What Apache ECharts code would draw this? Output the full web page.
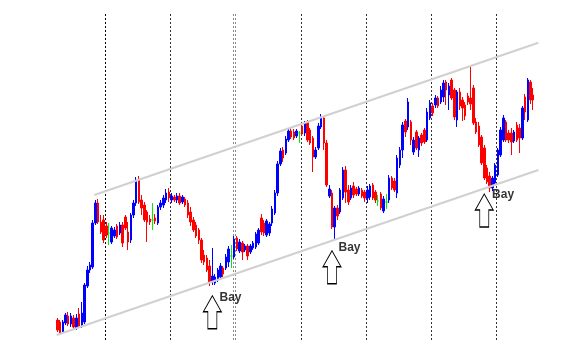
<!DOCTYPE html>
<html><head><meta charset="utf-8">
<script src="https://cdn.jsdelivr.net/npm/echarts@6/dist/echarts.min.js"></script>
<style>html,body{margin:0;padding:0;background:#fff}#c{width:588px;height:357px}</style>
</head><body><div id="c"></div>
<script>
// Price values (arbitrary units, hidden axis)
const openP = [20,18,8,17,24,16,22,12,26,14,
18,54,70,73,117,137,118,120,114,107,
98,104,114,107,115,123,108,100,125,137,
160,140,135,128,121,120,122,117,133,135,
140,148,140,143,140,144,138,141,137,128,
120,115,110,100,85,82,74,58,57,60,
63,72,72,78,84,83,102,89,97,90,
94,88,92,93,97,122,117,105,107,117,
127,147,176,190,187,200,209,208,204,207,
214,207,218,210,202,183,192,213,222,197,
144,147,113,132,128,142,170,150,142,154,
151,146,150,148,142,143,155,148,139,146,
129,138,140,162,159,147,175,190,219,213,
218,188,208,190,205,210,200,222,234,235,
242,238,243,258,245,260,250,220,248,240,
235,244,242,252,218,214,203,192,172,164,
152,157,165,185,200,218,207,207,199,215,
212,202,243,220,258,245];
const closeP = [10,7,18,25,16,24,13,22,14,27,
55,70,75,117,137,118,108,100,105,107,
112,110,103,115,97,112,98,125,137,160,
138,132,120,118,118,120,119,133,137,142,
147,142,144,140,144,137,143,135,125,118,
110,104,100,80,78,70,58,64,63,70,
74,66,83,91,84,101,91,98,88,94,
84,94,97,106,110,108,107,119,116,131,
147,176,189,182,201,209,203,202,209,207,
206,217,200,197,183,190,214,223,197,155,
151,113,132,124,150,170,148,138,152,145,
146,152,144,142,150,154,142,140,139,132,
141,138,162,152,150,182,190,215,208,238,
200,200,192,202,197,198,228,237,227,242,
234,250,257,250,254,242,223,248,234,232,
224,238,236,217,208,195,177,162,158,152,
162,175,190,210,222,200,200,198,208,200,
202,232,228,260,240,240];
const lowP = [8,6,6,15,14,13,10,10,12,12,
16,52,67,71,115,116,106,97,102,95,
96,102,101,105,93,110,90,97,122,134,
136,125,118,98,115,110,116,115,130,132,
137,138,137,138,137,135,136,133,122,114,
108,102,96,77,75,68,54,55,55,58,
61,63,70,73,72,81,89,87,80,88,
80,86,90,91,95,105,104,103,104,114,
125,144,174,178,185,198,201,200,202,197,
204,204,198,195,168,181,190,211,190,153,
142,111,100,120,126,140,137,135,140,142,
144,144,142,138,137,140,140,137,134,130,
127,131,137,150,148,142,172,182,203,210,
195,185,190,183,194,196,198,220,224,232,
232,236,238,235,230,240,220,213,230,219,
220,235,230,215,206,193,175,160,156,148,
149,155,163,183,198,198,197,185,197,198,
187,200,220,218,236,230];
const highP = [22,20,20,27,28,27,25,26,32,38,
57,74,78,120,140,141,125,125,118,117,
114,113,116,118,118,125,118,127,140,163,
164,145,138,130,125,137,126,135,140,145,
151,152,147,145,147,147,145,143,140,133,
123,118,112,102,90,85,80,92,66,72,
77,74,86,94,95,104,104,101,99,96,
96,96,99,108,112,126,120,121,118,134,
150,179,192,193,204,211,212,211,211,209,
217,219,220,212,204,193,217,226,224,200,
155,150,134,135,152,173,174,155,155,158,
153,154,152,150,154,156,157,150,145,148,
144,146,165,164,162,185,193,218,221,242,
220,203,210,204,207,212,232,240,237,245,
244,254,260,260,257,262,252,250,252,243,
238,247,275,255,222,218,205,195,175,168,
164,177,192,213,225,220,210,212,210,218,
216,234,246,262,260,252];

// Period separators (bar-index positions)
const separators = [17.6, 41.5, 64.7, 65.4, 89.6, 113.5, 137.4, 161.3];
const separatorColors = ['#000000','#333333','#8a8a8a','#8a8a8a','#333333','#333333','#333333','#333333'];
// Channel lines: [barIndex, price]
const upperChannel = [[13.6, 145], [176.9, 297.3]];
const lowerChannel = [[-0.24, 5], [176.9, 170]];
// Buy signals
const arrowTips = [[57, 44.3], [101, 89.3], [157, 146]];
const labelPos = [[59.45, 42.5], [103.2, 92.3], [159.7, 145.7]];
const labelText = 'Bay';

const candles = openP.map((o, i) => [i, o, closeP[i], lowP[i], highP[i]]);

const chart = echarts.init(document.getElementById('c'), null, {renderer: 'canvas'});
chart.setOption({
  animation: false,
  backgroundColor: '#ffffff',
  grid: {left: 56, right: 48, top: 13, bottom: 17},
  xAxis: {type: 'value', min: -0.5, max: 177.5, show: false},
  yAxis: {type: 'value', min: 0, max: 327, show: false},
  series: [
    {
      type: 'candlestick',
      data: candles,
      barWidth: 2,
      itemStyle: {
        color: '#0000ff', color0: '#ff0000',
        borderColor: '#0000ff', borderColor0: '#ff0000',
        borderColorDoji: '#00ee00',
        borderWidth: 1
      },
      z: 3,
      markLine: {
        silent: true,
        symbol: ['none', 'none'],
        label: {show: false},
        animation: false,
        z: 1,
        data: separators.map((x, k) => ({
          xAxis: x,
          lineStyle: {color: separatorColors[k], type: [2, 2], width: 1}
        }))
      }
    },
    {
      type: 'line', data: upperChannel, symbol: 'none', silent: true, z: 4,
      lineStyle: {color: '#d0d0d0', width: 2}
    },
    {
      type: 'line', data: lowerChannel, symbol: 'none', silent: true, z: 4,
      lineStyle: {color: '#d0d0d0', width: 2}
    },
    {
      type: 'scatter', data: arrowTips, silent: true, z: 5,
      symbol: 'path://M9,0 L18,16 L13.5,16 L13.5,33 L4.5,33 L4.5,16 L0,16 Z',
      symbolSize: [18, 33],
      symbolOffset: [0, 16.5],
      itemStyle: {color: '#ffffff', borderColor: '#000000', borderWidth: 1, opacity: 1}
    },
    {
      type: 'scatter', data: labelPos, silent: true, z: 6,
      symbolSize: 1,
      itemStyle: {color: 'rgba(0,0,0,0)'},
      label: {
        show: true, position: 'right', distance: 0,
        formatter: labelText,
        fontFamily: 'Liberation Sans, Arial, sans-serif',
        fontWeight: 'bold', fontSize: 12, color: '#000000'
      }
    }
  ]
});
</script>
</body></html>
